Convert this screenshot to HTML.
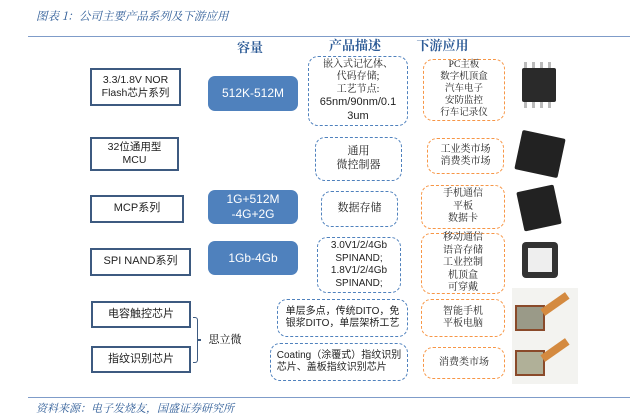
<!DOCTYPE html>
<html><head><meta charset="utf-8"><style>
body{margin:0;width:640px;height:417px;background:#fff;position:relative;overflow:hidden;font-family:"Liberation Sans","Noto Sans CJK SC",sans-serif;}
.a{position:absolute;box-sizing:border-box;display:flex;align-items:center;justify-content:center;text-align:center;line-height:1.25;}
.l{border:2px solid #3d5a80;font-size:10.5px;color:#222;background:#fff;}
.b{background:#4f81bd;color:#fff;font-size:12px;border-radius:7px;}
.d{border:1.5px dashed #4f81bd;border-radius:10px;font-size:10.5px;color:#222;font-family:"Liberation Serif","Noto Serif CJK SC",serif;}
.o{border:1.5px dashed #f79646;border-radius:10px;font-size:10px;color:#222;font-family:"Liberation Serif","Noto Serif CJK SC",serif;}
.h{font-size:13px;font-weight:bold;color:#2e5c97;font-family:"Noto Serif CJK SC",serif;}
.chip{position:absolute;background:#222;border-radius:2px;}
</style></head><body>
<div style="position:absolute;left:36px;top:8px;font-size:11.5px;font-style:italic;color:#2e5c97;font-family:'Noto Serif CJK SC',serif;">图表 1：公司主要产品系列及下游应用</div>
<div style="position:absolute;left:28px;top:36px;width:602px;height:1px;background:#7f9cc9"></div>
<div class="a h" style="left:225px;top:38px;width:50px;height:18px">容量</div>
<div class="a h" style="left:315px;top:36px;width:80px;height:18px">产品描述</div>
<div class="a h" style="left:410px;top:36px;width:65px;height:18px">下游应用</div>

<div class="a l" style="left:90px;top:68px;width:91px;height:38px"><div>3.3/1.8V NOR<br>Flash芯片系列</div></div>
<div class="a b" style="left:208px;top:76px;width:90px;height:35px">512K-512M</div>
<div class="a d" style="left:308px;top:56px;width:100px;height:70px;font-size:10px"><div>嵌入式记忆体、<br>代码存储;<br>工艺节点:<br><span style="font-family:'Liberation Sans';font-size:11px">65nm/90nm/0.1<br>3um</span></div></div>
<div class="a o" style="left:423px;top:59px;width:82px;height:62px;font-size:9.5px"><div>PC主板<br>数字机顶盒<br>汽车电子<br>安防监控<br>行车记录仪</div></div>
<div class="chip" style="left:522px;top:68px;width:34px;height:34px;background:#2a2a2a"></div>
<div style="position:absolute;left:524px;top:62px;width:30px;height:6px;background:repeating-linear-gradient(90deg,#bbb 0 3px,#fff 3px 8px)"></div>
<div style="position:absolute;left:524px;top:102px;width:30px;height:6px;background:repeating-linear-gradient(90deg,#bbb 0 3px,#fff 3px 8px)"></div>

<div class="a l" style="left:90px;top:137px;width:89px;height:34px"><div>32位通用型<br>MCU</div></div>
<div class="a d" style="left:315px;top:137px;width:87px;height:44px;font-size:11px"><div>通用<br>微控制器</div></div>
<div class="a o" style="left:427px;top:138px;width:77px;height:36px"><div>工业类市场<br>消费类市场</div></div>
<div class="chip" style="left:518px;top:134px;width:44px;height:40px;transform:rotate(12deg)"></div>

<div class="a l" style="left:90px;top:195px;width:94px;height:28px;font-size:11px">MCP系列</div>
<div class="a b" style="left:208px;top:190px;width:90px;height:34px"><div>1G+512M<br>-4G+2G</div></div>
<div class="a d" style="left:321px;top:191px;width:77px;height:36px;font-size:11px">数据存储</div>
<div class="a o" style="left:421px;top:185px;width:84px;height:44px"><div>手机通信<br>平板<br>数据卡</div></div>
<div class="chip" style="left:520px;top:188px;width:38px;height:40px;transform:rotate(-12deg)"></div>

<div class="a l" style="left:90px;top:248px;width:101px;height:28px;font-size:11px">SPI NAND系列</div>
<div class="a b" style="left:208px;top:241px;width:90px;height:34px">1Gb-4Gb</div>
<div class="a d" style="left:317px;top:237px;width:84px;height:56px;font-family:'Liberation Sans';font-size:10px"><div>3.0V1/2/4Gb<br>SPINAND;<br>1.8V1/2/4Gb<br>SPINAND;</div></div>
<div class="a o" style="left:421px;top:233px;width:84px;height:61px"><div>移动通信<br>语音存储<br>工业控制<br>机顶盒<br>可穿戴</div></div>
<div class="chip" style="left:522px;top:242px;width:36px;height:36px;border-radius:4px;background:#333"><div style="margin:6px;width:24px;height:24px;background:#eee"></div></div>

<div class="a l" style="left:91px;top:301px;width:100px;height:27px;font-size:11px">电容触控芯片</div>
<div class="a l" style="left:91px;top:346px;width:100px;height:27px;font-size:11px">指纹识别芯片</div>
<div style="position:absolute;left:193px;top:317px;width:4px;height:44px;border:1.5px solid #3d5a80;border-left:none;border-radius:0 3px 3px 0"></div>
<div style="position:absolute;left:197px;top:339px;width:4px;height:1.5px;background:#3d5a80"></div>
<div class="a" style="left:205px;top:332px;width:40px;height:16px;font-size:11px;font-family:'Noto Serif CJK SC',serif">思立微</div>
<div class="a d" style="left:277px;top:299px;width:131px;height:38px;font-family:'Liberation Sans','Noto Sans CJK SC';font-size:10px"><div>单层多点，传统DITO，免<br>银浆DITO，单层架桥工艺</div></div>
<div class="a o" style="left:421px;top:299px;width:84px;height:38px"><div>智能手机<br>平板电脑</div></div>
<div class="a d" style="left:270px;top:343px;width:138px;height:38px;font-family:'Liberation Sans','Noto Sans CJK SC';font-size:10px;text-align:left"><div>Coating（涂覆式）指纹识别<br>芯片、盖板指纹识别芯片</div></div>
<div class="a o" style="left:423px;top:347px;width:82px;height:32px">消费类市场</div>
<div style="position:absolute;left:512px;top:288px;width:66px;height:96px;background:#f3f3f0"></div>
<div style="position:absolute;left:515px;top:305px;width:26px;height:22px;background:#9a9a88;border:2px solid #8a4a2a"></div>
<div style="position:absolute;left:540px;top:300px;width:30px;height:8px;background:#d48a40;transform:rotate(-35deg)"></div>
<div style="position:absolute;left:515px;top:350px;width:26px;height:22px;background:#b0b098;border:2px solid #8a4a2a"></div>
<div style="position:absolute;left:540px;top:346px;width:30px;height:8px;background:#d48a40;transform:rotate(-35deg)"></div>

<div style="position:absolute;left:28px;top:397px;width:602px;height:1px;background:#7f9cc9"></div>
<div style="position:absolute;left:36px;top:400px;font-size:11px;font-style:italic;color:#2e5c97;font-family:'Noto Serif CJK SC',serif;">资料来源：电子发烧友，国盛证券研究所</div>
</body></html>
